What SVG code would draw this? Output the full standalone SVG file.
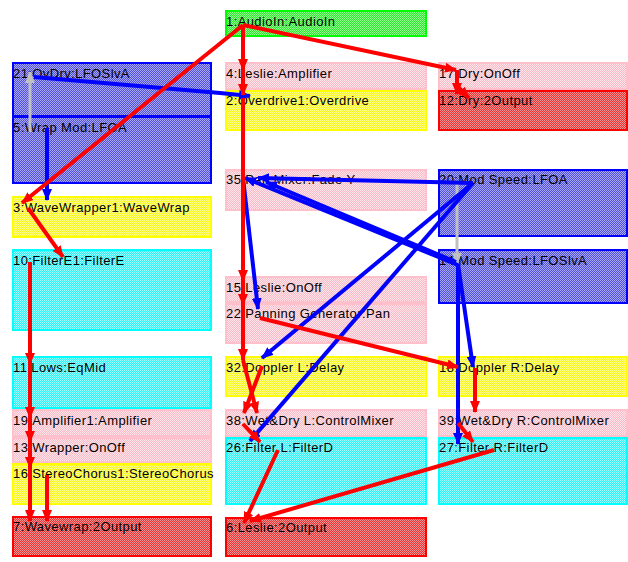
<svg xmlns="http://www.w3.org/2000/svg" width="628" height="562" viewBox="0 0 628 562">
<defs>
<pattern id="pGreen" width="2" height="2" patternUnits="userSpaceOnUse"><rect width="2" height="2" fill="#30e830"/><rect width="1" height="1" fill="#90ff90"/><rect x="1" y="1" width="1" height="1" fill="#90ff90"/></pattern>
<pattern id="pPink" width="2" height="2" patternUnits="userSpaceOnUse"><rect width="2" height="2" fill="#f8bcc8"/><rect width="1" height="1" fill="#ffe4ea"/><rect x="1" y="1" width="1" height="1" fill="#ffe4ea"/></pattern>
<pattern id="pYellow" width="2" height="2" patternUnits="userSpaceOnUse"><rect width="2" height="2" fill="#f8f820"/><rect width="1" height="1" fill="#ffff90"/><rect x="1" y="1" width="1" height="1" fill="#ffff90"/></pattern>
<pattern id="pCyan" width="2" height="2" patternUnits="userSpaceOnUse"><rect width="2" height="2" fill="#30f0f8"/><rect width="1" height="1" fill="#a0ffff"/><rect x="1" y="1" width="1" height="1" fill="#a0ffff"/></pattern>
<pattern id="pBlue" width="2" height="2" patternUnits="userSpaceOnUse"><rect width="2" height="2" fill="#5050dc"/><rect width="1" height="1" fill="#a8a8f4"/><rect x="1" y="1" width="1" height="1" fill="#a8a8f4"/></pattern>
<pattern id="pRed" width="2" height="2" patternUnits="userSpaceOnUse"><rect width="2" height="2" fill="#f03030"/><rect width="1" height="1" fill="#f09898"/><rect x="1" y="1" width="1" height="1" fill="#f09898"/></pattern>
<marker id="aR" markerUnits="userSpaceOnUse" markerWidth="12" markerHeight="10" viewBox="0 0 12 10" refX="11" refY="5" orient="auto"><path d="M0,0 L12,5 L0,10 z" fill="#ff0000"/></marker>
<marker id="aB" markerUnits="userSpaceOnUse" markerWidth="12" markerHeight="10" viewBox="0 0 12 10" refX="11" refY="5" orient="auto"><path d="M0,0 L12,5 L0,10 z" fill="#0000ff"/></marker>
<marker id="aG" markerUnits="userSpaceOnUse" markerWidth="12" markerHeight="10" viewBox="0 0 12 10" refX="11" refY="5" orient="auto"><path d="M0,0 L12,5 L0,10 z" fill="#c0c0c0"/></marker>
</defs>
<style>
.n rect{stroke-width:2}
.green{fill:url(#pGreen);stroke:#00ff00}
.pink{fill:url(#pPink);stroke:#ffc0cb}
.yellow{fill:url(#pYellow);stroke:#ffff00}
.cyan{fill:url(#pCyan);stroke:#00ffff}
.blue{fill:url(#pBlue);stroke:#0000ff}
.red{fill:url(#pRed);stroke:#ff0000}
text{font-family:"Liberation Sans",Arial,sans-serif;font-size:13px;letter-spacing:0.4px;fill:#000}
.er{stroke:#ff0000;stroke-width:4;fill:none;marker-end:url(#aR)}
.eb{stroke:#0000ff;stroke-width:4;fill:none;marker-end:url(#aB)}
.eg{stroke:#c0c0c0;stroke-width:3;fill:none;marker-end:url(#aG)}
</style>
<g id="nodes">
<g id="n1" class="n"><rect class="green" x="226" y="11" width="200" height="25"/><text x="226" y="26">1:AudioIn:AudioIn</text></g>
<g id="n21" class="n"><rect class="blue" x="13" y="63" width="198" height="53"/><text x="13" y="78">21:OvDrv:LFOSlvA</text></g>
<g id="n5" class="n"><rect class="blue" x="13" y="117" width="198" height="66"/><text x="13" y="132">5:Wrap Mod:LFOA</text></g>
<g id="n4" class="n"><rect class="pink" x="226" y="63" width="200" height="26"/><text x="226" y="78">4:Leslie:Amplifier</text></g>
<g id="n2" class="n"><rect class="yellow" x="226" y="91" width="200" height="39"/><text x="226" y="105">2:Overdrive1:Overdrive</text></g>
<g id="n17" class="n"><rect class="pink" x="439" y="63" width="188" height="26"/><text x="439" y="78">17:Dry:OnOff</text></g>
<g id="n12" class="n"><rect class="red" x="439" y="91" width="188" height="39"/><text x="439" y="105">12:Dry:2Output</text></g>
<g id="n3" class="n"><rect class="yellow" x="13" y="197" width="198" height="40"/><text x="13" y="212">3:WaveWrapper1:WaveWrap</text></g>
<g id="n35" class="n"><rect class="pink" x="226" y="170" width="200" height="40"/><text x="226" y="184">35:Pan Mixer:Fade Y</text></g>
<g id="n20" class="n"><rect class="blue" x="439" y="170" width="188" height="66"/><text x="439" y="184">20:Mod Speed:LFOA</text></g>
<g id="n10" class="n"><rect class="cyan" x="13" y="250" width="198" height="80"/><text x="13" y="265">10:FilterE1:FilterE</text></g>
<g id="n14" class="n"><rect class="blue" x="439" y="250" width="188" height="53"/><text x="439" y="265">14:Mod Speed:LFOSlvA</text></g>
<g id="n15" class="n"><rect class="pink" x="226" y="277" width="200" height="25"/><text x="226" y="292">15:Leslie:OnOff</text></g>
<g id="n22" class="n"><rect class="pink" x="226" y="304" width="200" height="39"/><text x="226" y="318">22:Panning Generator:Pan</text></g>
<g id="n11" class="n"><rect class="cyan" x="13" y="357" width="198" height="51"/><text x="13" y="372">11:Lows:EqMid</text></g>
<g id="n32" class="n"><rect class="yellow" x="226" y="357" width="200" height="39"/><text x="226" y="372">32:Doppler L:Delay</text></g>
<g id="n18" class="n"><rect class="yellow" x="439" y="357" width="188" height="39"/><text x="439" y="372">18:Doppler R:Delay</text></g>
<g id="n19" class="n"><rect class="pink" x="13" y="410" width="198" height="26"/><text x="13" y="425">19:Amplifier1:Amplifier</text></g>
<g id="n13" class="n"><rect class="pink" x="13" y="438" width="198" height="24"/><text x="13" y="452">13:Wrapper:OnOff</text></g>
<g id="n16" class="n"><rect class="yellow" x="13" y="464" width="198" height="40"/><text x="13" y="478">16:StereoChorus1:StereoChorus</text></g>
<g id="n38" class="n"><rect class="pink" x="226" y="410" width="200" height="26"/><text x="226" y="425">38:Wet&amp;Dry L:ControlMixer</text></g>
<g id="n26" class="n"><rect class="cyan" x="226" y="438" width="200" height="66"/><text x="226" y="452">26:Filter L:FilterD</text></g>
<g id="n39" class="n"><rect class="pink" x="439" y="410" width="188" height="26"/><text x="439" y="425">39:Wet&amp;Dry R:ControlMixer</text></g>
<g id="n27" class="n"><rect class="cyan" x="439" y="438" width="188" height="66"/><text x="439" y="452">27:Filter R:FilterD</text></g>
<g id="n7" class="n"><rect class="red" x="13" y="517" width="198" height="39"/><text x="13" y="531">7:Wavewrap:2Output</text></g>
<g id="n6" class="n"><rect class="red" x="226" y="518" width="200" height="38"/><text x="226" y="532">6:Leslie:2Output</text></g>
</g>
<g id="connectors">
<line class="eg" x1="30" y1="132" x2="30" y2="72"/>
<line class="eg" x1="457" y1="183" x2="457" y2="264"/>
<polyline class="eb" points="34,77 220,93 250,96"/>
<line class="eb" x1="47" y1="128" x2="47" y2="200"/>
<line class="eb" x1="473" y1="183" x2="258" y2="178"/>
<line class="eb" x1="458" y1="265" x2="245" y2="178"/>
<line class="eb" x1="456" y1="262" x2="266" y2="182"/>
<line class="eb" x1="473" y1="183" x2="262" y2="358"/>
<line class="eb" x1="473" y1="183" x2="250" y2="441"/>
<line class="eb" x1="243" y1="178" x2="258" y2="309"/>
<line class="eb" x1="458" y1="264" x2="458" y2="444"/>
<line class="eb" x1="458" y1="264" x2="473" y2="367"/>
<line class="er" x1="243" y1="25" x2="22" y2="203"/>
<line class="er" x1="243" y1="25" x2="243" y2="70"/>
<line class="er" x1="243" y1="70" x2="243" y2="95"/>
<line class="er" x1="243" y1="25" x2="456" y2="70"/>
<line class="er" x1="457" y1="70" x2="457" y2="94"/>
<line class="er" x1="457" y1="86" x2="469" y2="98"/>
<line class="er" x1="243" y1="98" x2="243" y2="281"/>
<line class="er" x1="243" y1="281" x2="243" y2="305"/>
<line class="er" x1="243" y1="305" x2="243" y2="360"/>
<line class="er" x1="260" y1="318" x2="458" y2="367"/>
<line class="er" x1="243" y1="360" x2="257" y2="413"/>
<line class="er" x1="262" y1="366" x2="244" y2="413"/>
<line class="er" x1="243" y1="424" x2="260" y2="442"/>
<line class="er" x1="278" y1="450" x2="244" y2="523"/>
<line class="er" x1="494" y1="450" x2="250" y2="521"/>
<line class="er" x1="475" y1="368" x2="475" y2="412"/>
<line class="er" x1="458" y1="423" x2="473" y2="442"/>
<line class="er" x1="28" y1="208" x2="63" y2="257"/>
<line class="er" x1="30" y1="262" x2="30" y2="364"/>
<line class="er" x1="30" y1="364" x2="30" y2="418"/>
<line class="er" x1="30" y1="418" x2="30" y2="442"/>
<line class="er" x1="30" y1="442" x2="30" y2="468"/>
<line class="er" x1="30" y1="468" x2="30" y2="521"/>
<line class="er" x1="47" y1="475" x2="47" y2="521"/>
</g>
</svg>
